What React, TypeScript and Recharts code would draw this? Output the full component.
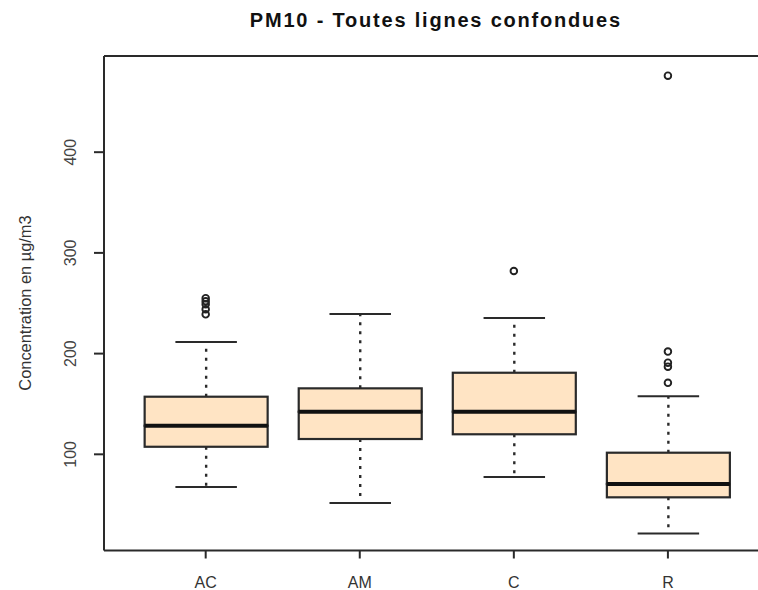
import React from 'react';
import { ComposedChart, Bar, Line, XAxis, YAxis, ReferenceLine } from 'recharts';

const categories = ['AC', 'AM', 'C', 'R'];
const lowerWhisker = [67.5, 51.6, 77.5, 21.5];
const q1 = [107.5, 115.2, 119.9, 57.3];
const median = [128.4, 142.3, 142.3, 70.5];
const q3 = [157.2, 165.5, 181, 101.6];
const upperWhisker = [211.5, 239.3, 235.4, 157.6];
const outliers: number[][] = [
  [239, 244, 249, 252, 255],
  [],
  [282],
  [171, 187, 191, 202, 476],
];
const yTicks = [100, 200, 300, 400];
const yDomain: [number, number] = [4.5, 495.5];

const data = categories.map((name, i) => {
  const row: Record<string, any> = {
    name,
    base: lowerWhisker[i],
    lowW: q1[i] - lowerWhisker[i],
    lowBox: median[i] - q1[i],
    upBox: q3[i] - median[i],
    upW: upperWhisker[i] - q3[i],
  };
  for (let k = 0; k < 5; k++) row['o' + k] = outliers[i][k] ?? null;
  return row;
});

const FONT = '"Liberation Sans", Arial, Helvetica, sans-serif';
const INK = '#2a2a2a';
const FILL = '#FFE4C4';

const LowerWhisker = (p: any) => {
  const { x, y, width, height } = p;
  const cx = x + width / 2;
  const cap = width / 4;
  return (
    <g>
      <line x1={cx} x2={cx} y1={y} y2={y + height} stroke={INK} strokeWidth={2.4} strokeDasharray="3 6" />
      <line x1={cx - cap} x2={cx + cap} y1={y + height} y2={y + height} stroke={INK} strokeWidth={2} />
    </g>
  );
};

const UpperWhisker = (p: any) => {
  const { x, y, width, height } = p;
  const cx = x + width / 2;
  const cap = width / 4;
  return (
    <g>
      <line x1={cx} x2={cx} y1={y + height} y2={y} stroke={INK} strokeWidth={2.4} strokeDasharray="3 6" />
      <line x1={cx - cap} x2={cx + cap} y1={y} y2={y} stroke={INK} strokeWidth={2} />
    </g>
  );
};

const LowerBox = (p: any) => {
  const { x, y, width, height } = p;
  return <rect x={x} y={y} width={width} height={height} fill={FILL} stroke={INK} strokeWidth={2.2} />;
};

const UpperBox = (p: any) => {
  const { x, y, width, height } = p;
  return (
    <g>
      <rect x={x} y={y} width={width} height={height} fill={FILL} stroke={INK} strokeWidth={2.2} />
      <line x1={x} x2={x + width} y1={y + height} y2={y + height} stroke="#111" strokeWidth={4} />
    </g>
  );
};

const OutlierDot = (p: any) => {
  const { cx, cy, key, value } = p;
  if (cy == null || value == null || Number.isNaN(cy)) return <g key={key} />;
  return <circle key={key} cx={cx} cy={cy} r={3.3} fill="none" stroke="#222" strokeWidth={1.9} />;
};

const YTick = (p: any) => {
  const { x, y, payload } = p;
  const tx = x - 18;
  return (
    <text x={tx} y={y} transform={`rotate(-90 ${tx} ${y})`} textAnchor="middle" fontSize={16} fill="#444" fontFamily={FONT}>
      {payload.value}
    </text>
  );
};

const XTick = (p: any) => {
  const { x, y, payload } = p;
  return (
    <text x={x} y={y + 29.8} textAnchor="middle" fontSize={16} fill="#333" fontFamily={FONT}>
      {payload.value}
    </text>
  );
};

export default function App() {
  return (
    <div style={{ position: 'absolute', left: 0, top: 0, width: 758, height: 590, overflow: 'hidden', background: '#fff' }}>
      <div
        style={{
          position: 'absolute', left: 235, top: 10.1, width: 400, textAlign: 'center',
          fontFamily: FONT, fontWeight: 'bold', fontSize: 20, lineHeight: '20px', letterSpacing: 1.8,
          color: '#111', paddingLeft: 1.8, boxSizing: 'border-box', whiteSpace: 'nowrap',
        }}
      >
        PM10 - Toutes lignes confondues
      </div>
      <div
        style={{
          position: 'absolute', left: -75, top: 292.5, width: 200, height: 20, lineHeight: '20px',
          textAlign: 'center', fontFamily: FONT, fontSize: 16.4, color: '#333', transform: 'rotate(-90deg)',
          whiteSpace: 'nowrap',
        }}
      >
        Concentration en µg/m3
      </div>
      <div style={{ position: 'absolute', left: 0, top: 0 }}>
        <ComposedChart width={800} height={590} data={data} margin={{ top: 56, right: 30.4, bottom: 0, left: 0 }}>
          <XAxis
            dataKey="name"
            type="category"
            padding={{ left: 24.65, right: 24.65 }}
            height={39.5}
            tickSize={8}
            tickMargin={0}
            axisLine={{ stroke: INK, strokeWidth: 2 }}
            tickLine={{ stroke: INK, strokeWidth: 2 }}
            tick={<XTick />}
            interval={0}
          />
          <YAxis
            type="number"
            domain={yDomain}
            allowDataOverflow
            ticks={yTicks}
            width={104}
            tickSize={10}
            tickMargin={0}
            axisLine={{ stroke: INK, strokeWidth: 2 }}
            tickLine={{ stroke: INK, strokeWidth: 2 }}
            tick={<YTick />}
          />
          <ReferenceLine y={yDomain[1]} stroke={INK} strokeWidth={2} ifOverflow="visible" />
          <Bar dataKey="base" stackId="b" fill="none" barSize={123} isAnimationActive={false} />
          <Bar dataKey="lowW" stackId="b" barSize={123} shape={<LowerWhisker />} isAnimationActive={false} />
          <Bar dataKey="lowBox" stackId="b" barSize={123} shape={<LowerBox />} isAnimationActive={false} />
          <Bar dataKey="upBox" stackId="b" barSize={123} shape={<UpperBox />} isAnimationActive={false} />
          <Bar dataKey="upW" stackId="b" barSize={123} shape={<UpperWhisker />} isAnimationActive={false} />
          {[0, 1, 2, 3, 4].map((k) => (
            <Line
              key={k}
              dataKey={'o' + k}
              stroke="none"
              dot={OutlierDot}
              activeDot={false}
              connectNulls={false}
              legendType="none"
              isAnimationActive={false}
            />
          ))}
        </ComposedChart>
      </div>
    </div>
  );
}
